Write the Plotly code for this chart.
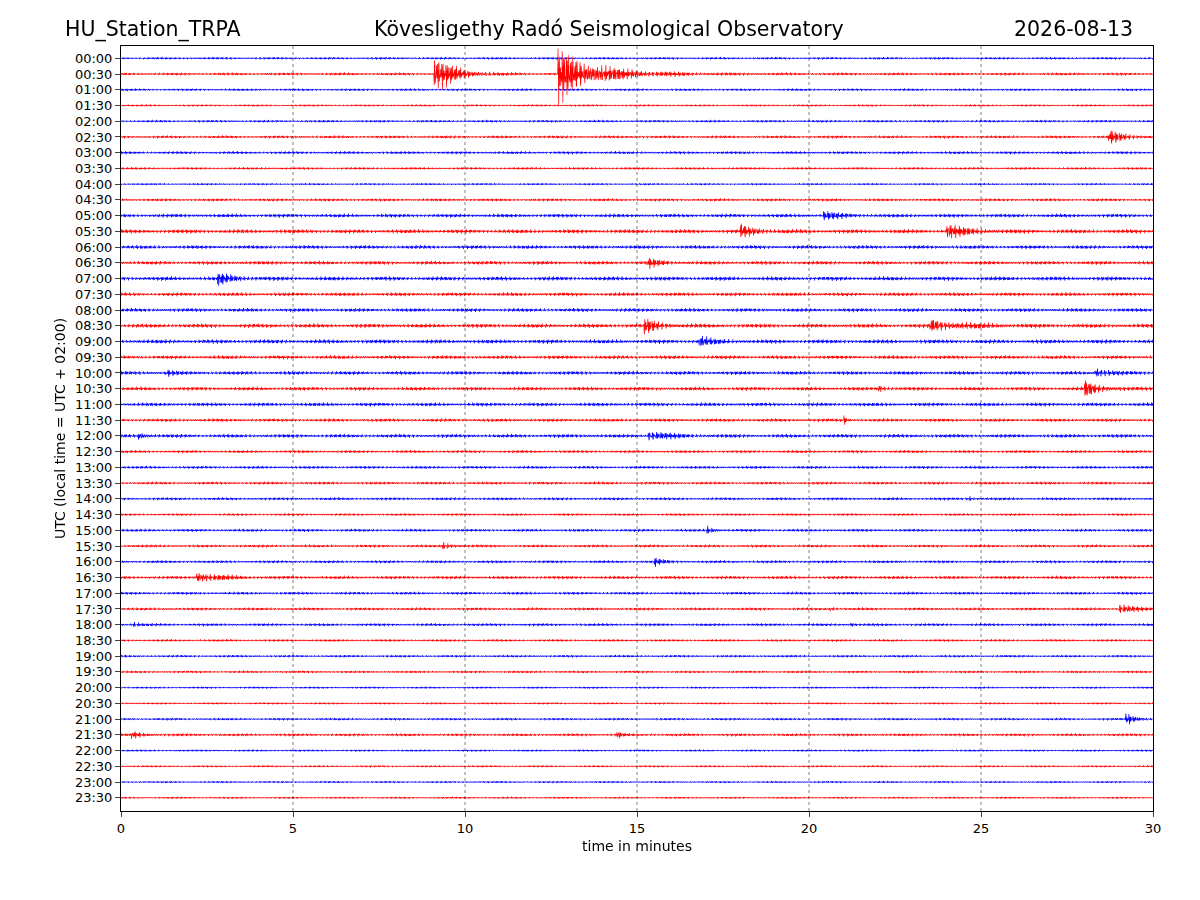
import numpy as np
import plotly.graph_objects as go

STATION = "HU_Station_TRPA"
OBSERVATORY = "Kövesligethy Radó Seismological Observatory"
DATE = "2026-08-13"

row_labels = [f"{h:02d}:{m:02d}" for h in range(24) for m in (0, 30)]

# background noise level per 30-minute row (trace units)
noise = [0.06, 0.07, 0.06, 0.05, 0.06, 0.07, 0.07, 0.06, 0.05, 0.07,
         0.09, 0.10, 0.09, 0.09, 0.10, 0.09, 0.09, 0.10, 0.10, 0.09,
         0.09, 0.09, 0.09, 0.08, 0.09, 0.07, 0.07, 0.07, 0.07, 0.06,
         0.07, 0.07, 0.07, 0.08, 0.07, 0.07, 0.07, 0.06, 0.06, 0.06,
         0.05, 0.05, 0.06, 0.07, 0.05, 0.05, 0.05, 0.05]

# events: (row, start minute, peak amplitude, duration in minutes)
events = [
    (1, 9.1, 1.0, 1.6), (1, 12.7, 1.3, 3.2),
    (5, 28.7, 0.35, 1.3),
    (10, 20.4, 0.22, 1.2),
    (11, 18.0, 0.3, 1.3), (11, 24.0, 0.35, 1.6),
    (13, 15.3, 0.22, 1.0),
    (14, 2.8, 0.28, 1.3),
    (17, 15.2, 0.35, 1.3), (17, 23.5, 0.28, 2.6),
    (18, 16.8, 0.25, 1.0),
    (20, 1.3, 0.2, 0.5), (20, 28.3, 0.3, 1.0),
    (21, 22.0, 0.2, 0.4), (21, 28.0, 0.4, 1.2),
    (23, 21.0, 0.3, 0.2),
    (24, 0.5, 0.2, 0.5), (24, 15.3, 0.3, 1.4),
    (28, 24.6, 0.3, 0.2),
    (30, 17.0, 0.2, 0.6),
    (31, 9.3, 0.2, 0.8),
    (32, 15.5, 0.2, 0.6),
    (33, 2.2, 0.3, 1.6),
    (35, 20.6, 0.15, 0.3), (35, 29.0, 0.3, 1.0),
    (36, 0.3, 0.15, 0.5), (36, 21.2, 0.15, 0.3),
    (42, 29.2, 0.35, 0.8),
    (43, 0.3, 0.15, 1.0), (43, 14.4, 0.25, 0.3),
]

n = 3000
t = np.linspace(0, 30, n)
xs = {"blue": [], "red": []}
ys = {"blue": [], "red": []}
for i in range(48):
    ph = i * 1.37
    carrier = (np.sin(917 * t + ph) * np.sin(131 * t + 2 * ph)
               + 0.6 * np.sin(1733 * t + 3 * ph) * np.cos(53 * t + ph))
    env = np.full(n, noise[i])
    for r, t0, a, d in events:
        if r == i:
            m = t >= t0
            env[m] += a * np.exp(-(t[m] - t0) / (d / 3))
    y = -i + env * carrier
    c = "blue" if i % 2 == 0 else "red"
    xs[c] += list(t) + [None]
    ys[c] += list(y) + [None]

fig = go.Figure()
for c in ("blue", "red"):
    fig.add_trace(go.Scattergl(x=xs[c], y=ys[c], mode="lines",
                               line=dict(color=c, width=0.7),
                               hoverinfo="skip", showlegend=False))

for xv in range(5, 30, 5):
    fig.add_vline(x=xv, line=dict(color="black", width=0.5, dash="dot"))

fig.update_layout(
    width=1200, height=900, plot_bgcolor="white", paper_bgcolor="white",
    margin=dict(l=113, r=55, t=38, b=97, autoexpand=False),
    font=dict(family="DejaVu Sans", color="black", size=13),
    annotations=[
        dict(text=STATION, x=-0.056, y=1.022, xref="paper", yref="paper",
             showarrow=False, xanchor="left", yanchor="middle", font=dict(size=20.5)),
        dict(text=OBSERVATORY, x=0.473, y=1.022, xref="paper", yref="paper",
             showarrow=False, xanchor="center", yanchor="middle", font=dict(size=20.5)),
        dict(text=DATE, x=0.983, y=1.022, xref="paper", yref="paper",
             showarrow=False, xanchor="right", yanchor="middle", font=dict(size=20.5)),
    ],
)
fig.update_xaxes(range=[0, 30], tickvals=list(range(0, 31, 5)), ticks="outside",
                 showgrid=False, zeroline=False, showline=True, mirror=True,
                 linecolor="black", automargin=False,
                 title=dict(text="time in minutes", standoff=6, font=dict(size=14)))
fig.update_yaxes(range=[-47.84, 0.78], tickvals=[-i for i in range(48)],
                 ticktext=row_labels, ticks="outside", showgrid=False,
                 zeroline=False, showline=True, mirror=True, linecolor="black",
                 automargin=False,
                 title=dict(text="UTC (local time = UTC + 02:00)", standoff=6,
                            font=dict(size=14)))

fig.write_html("out.html")
